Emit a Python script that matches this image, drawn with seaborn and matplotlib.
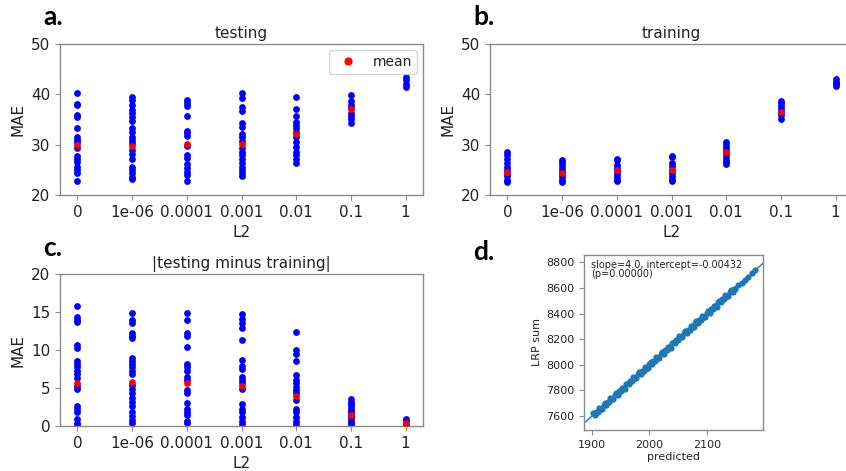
import numpy as np
import pandas as pd
import matplotlib
matplotlib.use("Agg")
import matplotlib.pyplot as plt
from matplotlib.lines import Line2D
import seaborn as sns

# L2 regularisation strengths (categorical x axis)
l2_labels = ["0", "1e-06", "0.0001", "0.001", "0.01", "0.1", "1"]

# Testing MAE per L2 setting
test_mae = [
    [40.2, 38.1, 37.8, 35.8, 35.5, 33.4, 31.5, 31.0, 30.5, 29.4, 27.7, 27.1, 26.6, 25.6, 24.9, 24.3, 22.8],
    [39.4, 38.9, 37.9, 36.9, 36.3, 35.5, 34.8, 33.3, 32.6, 31.6, 31.0, 30.4, 29.0, 28.2, 27.1, 25.6, 25.0, 24.3, 23.6, 23.2],
    [38.8, 38.3, 37.6, 35.7, 32.8, 32.3, 31.7, 29.8, 27.9, 27.3, 26.1, 25.3, 24.6, 24.0, 22.7],
    [40.2, 39.3, 37.5, 36.7, 34.3, 33.6, 32.2, 31.5, 30.8, 29.3, 28.6, 28.0, 27.1, 26.3, 25.6, 25.0, 24.3, 23.7],
    [39.4, 37.1, 35.7, 34.6, 33.9, 33.3, 32.6, 31.5, 30.6, 29.6, 28.6, 28.0, 27.1, 26.4],
    [39.9, 38.6, 37.9, 37.3, 36.3, 35.6, 35.0, 34.3],
    [43.4, 42.8, 42.1, 41.5],
]
test_mean = [30.0, 29.8, 30.1, 30.2, 32.1, 37.0, np.nan]

# Training MAE per L2 setting
train_mae = [
    [28.6, 28.0, 27.2, 26.3, 25.6, 25.0, 24.3, 23.7, 23.0, 22.6],
    [27.0, 26.5, 26.0, 25.4, 24.8, 24.2, 23.6, 23.0, 22.6],
    [27.2, 26.9, 26.0, 25.4, 24.8, 24.2, 23.6, 23.0, 22.7],
    [27.8, 27.5, 26.3, 25.7, 25.0, 24.4, 23.8, 23.2, 22.8],
    [30.6, 30.0, 29.4, 28.8, 28.2, 27.6, 27.0, 26.5, 26.1],
    [38.7, 38.2, 37.6, 37.0, 36.4, 35.8, 35.1],
    [43.0, 42.5, 42.0, 41.6],
]
train_mean = [24.5, 24.3, 24.9, 24.9, 28.6, 36.4, np.nan]

# |testing - training| MAE per L2 setting
diff_mae = [
    [15.8, 14.4, 14.0, 13.7, 10.7, 10.3, 8.6, 8.1, 7.7, 7.2, 6.8, 6.3, 5.3, 4.9, 2.6, 2.2, 1.8, 0.9, 0.4, 0.1],
    [14.9, 13.9, 13.6, 12.3, 11.9, 11.6, 9.0, 8.5, 8.1, 7.7, 7.2, 6.8, 5.4, 4.9, 4.3, 3.7, 3.1, 2.6, 1.9, 1.3, 0.8, 0.4],
    [14.9, 14.0, 12.2, 11.8, 10.4, 8.1, 7.7, 7.2, 6.5, 6.1, 4.8, 4.3, 3.0, 2.3, 1.9, 1.5, 0.6, 0.4],
    [14.7, 14.1, 13.6, 12.9, 11.3, 8.7, 7.9, 7.5, 6.5, 6.1, 5.7, 4.9, 2.9, 2.3, 1.8, 1.2, 0.7, 0.3],
    [12.4, 10.0, 9.5, 8.5, 6.7, 6.1, 5.6, 5.1, 4.7, 4.3, 3.4, 2.3, 1.9, 1.2, 0.7, 0.3],
    [3.5, 3.2, 2.9, 2.6, 2.3, 2.0, 1.7, 1.3, 1.0, 0.7, 0.4, 0.1],
    [0.9, 0.6, 0.3, 0.1],
]
diff_mean = [5.7, 5.8, 5.6, 5.3, 3.9, 1.5, 0.4]

# Predicted value vs. summed LRP relevance
predicted = [
    1902, 1905, 1907, 1910, 1912, 1915, 1917, 1920, 1922, 1925, 1927, 1930, 1932, 1935, 1937, 1940,
    1942, 1945, 1947, 1950, 1952, 1955, 1957, 1960, 1962, 1965, 1967, 1970, 1972, 1975, 1977, 1980,
    1982, 1985, 1987, 1990, 1992, 1995, 1997, 2000, 2002, 2005, 2007, 2010, 2012, 2015, 2017, 2020,
    2022, 2025, 2027, 2030, 2032, 2035, 2037, 2040, 2042, 2045, 2047, 2050, 2052, 2055, 2057, 2060,
    2062, 2065, 2067, 2070, 2072, 2075, 2077, 2080, 2082, 2085, 2087, 2090, 2092, 2095, 2097, 2100,
    2102, 2105, 2107, 2110, 2112, 2115, 2117, 2120, 2122, 2125, 2127, 2130, 2132, 2135, 2137, 2140,
    2142, 2145, 2147, 2150, 2155, 2161, 2166, 2171, 2178, 2184,
]
lrp_sum = [
    7620, 7608, 7632, 7632, 7662, 7656, 7654, 7688, 7700, 7688, 7712, 7712, 7742, 7736, 7734, 7768,
    7780, 7768, 7792, 7792, 7822, 7816, 7814, 7848, 7860, 7848, 7872, 7872, 7902, 7896, 7894, 7928,
    7940, 7928, 7952, 7952, 7982, 7976, 7974, 8008, 8020, 8008, 8032, 8032, 8062, 8056, 8054, 8088,
    8100, 8088, 8112, 8112, 8142, 8136, 8134, 8168, 8180, 8168, 8192, 8192, 8222, 8216, 8214, 8248,
    8260, 8248, 8272, 8272, 8302, 8296, 8294, 8328, 8340, 8328, 8352, 8352, 8382, 8376, 8374, 8408,
    8420, 8408, 8432, 8432, 8462, 8456, 8454, 8488, 8500, 8488, 8512, 8512, 8542, 8536, 8534, 8568,
    8580, 8568, 8592, 8592, 8620, 8642, 8664, 8686, 8714, 8738,
]
fit_slope = 4.0
fit_intercept = -0.00432

plt.rcParams.update({
    "font.family": "DejaVu Sans",
    "axes.edgecolor": "#8a8a8a",
    "axes.linewidth": 1.0,
    "xtick.color": "#8a8a8a",
    "ytick.color": "#8a8a8a",
    "xtick.labelcolor": "#222222",
    "ytick.labelcolor": "#222222",
    "axes.labelcolor": "#222222",
    "text.color": "#222222",
})

fig = plt.figure(figsize=(8.46, 4.71), dpi=100)
W, H = 846, 471


def box(x0, y0, x1, y1):
    return [x0 / W, 1 - y1 / H, (x1 - x0) / W, (y1 - y0) / H]


def long_frame(values):
    rows = [(lab, v) for lab, vals in zip(l2_labels, values) for v in vals]
    return pd.DataFrame(rows, columns=["L2", "MAE"])


def strip_panel(ax, values, means, title, ylim, yticks):
    sns.stripplot(data=long_frame(values), x="L2", y="MAE", order=l2_labels,
                  jitter=False, color="blue", size=4.9, linewidth=0, ax=ax, zorder=2)
    mdf = pd.DataFrame({"L2": l2_labels, "MAE": means}).dropna()
    sns.stripplot(data=mdf, x="L2", y="MAE", order=l2_labels,
                  jitter=False, color="red", size=4.9, linewidth=0, ax=ax, zorder=3)
    ax.set_xlim(-0.32, 6.32)
    ax.set_ylim(*ylim)
    ax.set_yticks(yticks)
    ax.set_title(title, fontsize=11, pad=4)
    ax.set_xlabel("L2", fontsize=11)
    ax.set_ylabel("MAE", fontsize=11)
    ax.tick_params(labelsize=11)


ax_a = fig.add_axes(box(60, 44, 423, 195))
strip_panel(ax_a, test_mae, test_mean, "testing", (20, 50), [20, 30, 40, 50])
ax_a.legend(handles=[Line2D([], [], marker="o", color="red", linestyle="",
                            markersize=4.9, label="mean")],
            loc="upper right", fontsize=10, handletextpad=0.8, borderpad=0.35,
            borderaxespad=0.45)

ax_b = fig.add_axes(box(490, 44, 853, 195))
strip_panel(ax_b, train_mae, train_mean, "training", (20, 50), [20, 30, 40, 50])

ax_c = fig.add_axes(box(60, 274, 423, 426))
strip_panel(ax_c, diff_mae, diff_mean, "|testing minus training|", (0, 20), [0, 5, 10, 15, 20])

ax_d = fig.add_axes(box(584, 255, 763, 430))
sns.scatterplot(x=predicted, y=lrp_sum, color="#1f77b4", s=20, linewidth=0, ax=ax_d, zorder=2)
xlo, xhi = 1886, 2198
line_x = np.array([xlo, xhi])
ax_d.plot(line_x, fit_slope * line_x + fit_intercept, color="#1f77b4", lw=1.0, zorder=1)
ax_d.set_xlim(xlo, xhi)
ax_d.set_ylim(7491, 8857)
ax_d.set_xticks([1900, 2000, 2100])
ax_d.set_yticks([7600, 7800, 8000, 8200, 8400, 8600, 8800])
ax_d.tick_params(labelsize=8)
ax_d.set_xlabel("predicted", fontsize=8, labelpad=2)
ax_d.set_ylabel("LRP sum", fontsize=8, labelpad=3)
ax_d.text(0.04, 0.97, f"slope={fit_slope}, intercept={fit_intercept}\n(p=0.00000)",
          transform=ax_d.transAxes, fontsize=7, va="top", ha="left", linespacing=0.85)

# panel letters
for lab, px, py in [("a.", 43, 25), ("b.", 473, 25), ("c.", 43, 256), ("d.", 473, 260)]:
    fig.text(px / W, 1 - py / H, lab, fontsize=19, fontweight="bold",
             family="Lato", color="black", va="baseline", ha="left")

fig.savefig("out.png", dpi=100)
